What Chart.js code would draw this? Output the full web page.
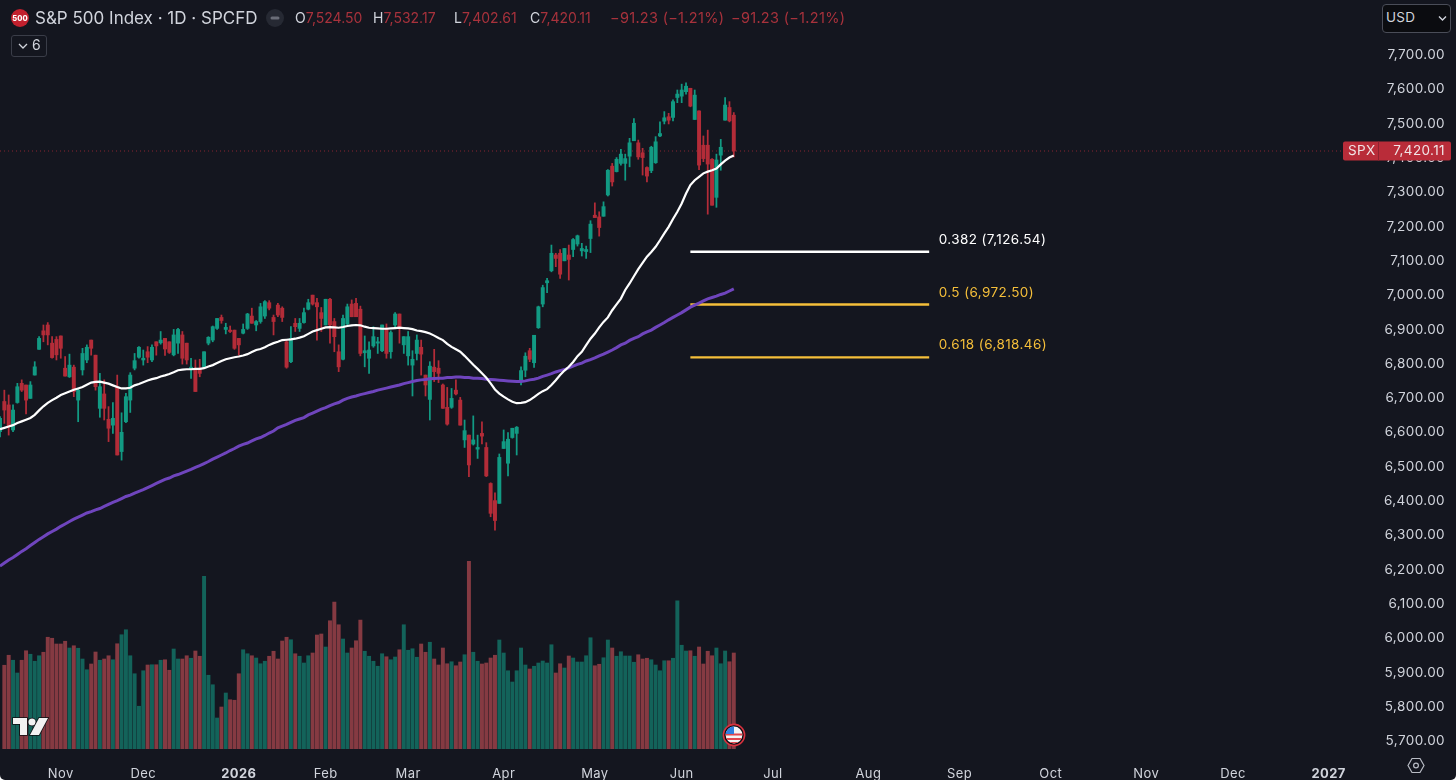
<!DOCTYPE html>
<html>
<head>
<meta charset="utf-8">
<title>S&amp;P 500 Index</title>
<script src="https://cdn.jsdelivr.net/npm/chart.js@4"></script>
<style>
  html, body { margin: 0; padding: 0; background: #fff; overflow: hidden; }
  #wrap { position: relative; width: 1456px; height: 780px; overflow: hidden; border-radius: 0 0 5px 5px; background: #14161f; font-family: Inter, sans-serif; color: #d1d4dc; }
  canvas { position: absolute; left: 0; top: 0; }
  .t { position: absolute; white-space: nowrap; line-height: 1; }
  .r { color: #a8323c; }
  svg { position: absolute; }
</style>
</head>
<body>
<div id="wrap">
  <canvas id="grafico" width="1456" height="781"></canvas>

  <svg style="left:11px;top:9px" width="18" height="18" viewBox="0 0 18 18"><circle cx="9" cy="9" r="9" fill="#c2202e"/><text x="9" y="11.6" text-anchor="middle" font-size="7.5" font-weight="800" font-family="Inter" fill="#fff">500</text></svg>
  <div class="t" style="left:35px;top:10px;font-size:17px;">S&amp;P 500 Index · 1D · SPCFD</div>
  <svg style="left:266px;top:9px" width="18" height="18" viewBox="0 0 18 18"><circle cx="9" cy="9" r="9" fill="#262933"/><rect x="4.5" y="7.5" width="9" height="3" rx="1.5" fill="#6a6d78"/></svg>
  <div class="t" style="left:295px;top:11px;font-size:14px;">O<span class="r">7,524.50</span></div>
  <div class="t" style="left:373px;top:11px;font-size:14px;">H<span class="r">7,532.17</span></div>
  <div class="t" style="left:454px;top:11px;font-size:14px;">L<span class="r">7,402.61</span></div>
  <div class="t" style="left:530px;top:11px;font-size:14px;">C<span class="r">7,420.11</span></div>
  <div class="t r" style="left:610px;top:11px;font-size:14.5px;letter-spacing:.3px;">−91.23 (−1.21%)</div>
  <div class="t r" style="left:731px;top:11px;font-size:14.5px;letter-spacing:.3px;">−91.23 (−1.21%)</div>

  <div class="t" style="left:11px;top:35px;width:34px;height:20px;border:1px solid #3a3d48;border-radius:3px;"></div>
  <svg style="left:18px;top:42px" width="10" height="8" viewBox="0 0 10 8"><path d="M1 2 L5 6 L9 2" fill="none" stroke="#d1d4dc" stroke-width="1.3"/></svg>
  <div class="t" style="left:32px;top:38px;font-size:14px;">6</div>

  <div class="t" style="left:1382px;top:4px;width:67px;height:27px;background:#0b0c10;border:1px solid #4a4d58;border-radius:4px;"></div>
  <div class="t" style="left:1386px;top:11px;font-size:13.5px;letter-spacing:.3px;">USD</div>
  <svg style="left:1438px;top:15px" width="9" height="7" viewBox="0 0 9 7"><path d="M1 1.5 L4.5 5 L8 1.5" fill="none" stroke="#d1d4dc" stroke-width="1.4"/></svg>

  <svg style="left:12px;top:716px" width="37" height="21" viewBox="0 0 37 21">
    <g stroke="#0b0c10" stroke-width="1.5" paint-order="stroke" fill="#f2f2f2">
      <path d="M1 2 H15 V19 H8 V8 H1 Z"/><circle cx="20" cy="6" r="3.6"/><path d="M27 2 H36 L27 19 H18 Z"/>
    </g>
  </svg>
  <svg style="left:722px;top:723px" width="24" height="24" viewBox="0 0 24 24">
    <defs><clipPath id="fc"><circle cx="12" cy="12" r="8.4"/></clipPath></defs>
    <circle cx="12" cy="12" r="10.6" fill="#0d0e14" stroke="#d8323f" stroke-width="1.6"/>
    <g clip-path="url(#fc)">
      <rect x="3" y="3" width="18" height="18" fill="#f4f4f4"/>
      <rect x="3" y="10.5" width="18" height="2" fill="#e2474f"/><rect x="3" y="15" width="18" height="2" fill="#e2474f"/>
      <rect x="3" y="19" width="18" height="2" fill="#e2474f"/>
      <rect x="3" y="3" width="9" height="8" fill="#2f7fe0"/>
    </g>
  </svg>
  <svg style="left:1407px;top:757px" width="18" height="17" viewBox="0 0 18 17"><path d="M5 1.5 H13 L17 8.5 L13 15.5 H5 L1 8.5 Z" fill="none" stroke="#b8bbc4" stroke-width="1.2"/><circle cx="9" cy="8.5" r="2.4" fill="none" stroke="#b8bbc4" stroke-width="1.2"/></svg>
</div>

<script>
// velas diarias, de izquierda a derecha
const opens = [6602,6690,6680,6607,6687,6743,6738,6699,6767,6842,6896,6913,6860,6871,6881,6787,6762,6790,6694,6782,6811,6869,6825,6670,6712,6638,6621,6733,6544,6631,6694,6787,6819,6811,6835,6811,6864,6861,6874,6864,6826,6860,6884,6860,6784,6784,6787,6790,6860,6869,6903,6935,6900,6898,6898,6874,6889,6903,6939,6913,
6923,6939,6978,6935,6971,6962,6864,6806,6918,6903,6920,6959,7000,6978,6949,6913,6988,6923,6835,6813,6916,6974,6976,6959,6832,6816,6852,6860,6838,6903,6835,6913,6945,6855,6823,6796,6830,6848,6767,6696,6790,6787,6738,6673,6673,6723,6694,6578,6592,6566,6551,6597,6556,6451,6401,6393,6553,6510,6585,6597,
6750,6781,6838,6803,6905,6974,7036,7071,7117,7122,7100,7117,7133,7149,7129,7127,7165,7233,7228,7230,7292,7376,7360,7384,7384,7405,7450,7444,7415,7372,7363,7386,7464,7507,7520,7518,7576,7580,7593,7603,7512,7537,7437,7437,7396,7285,7408,7510,7547,7524.50];
const highs = [6646,6723,6709,6680,6743,6753,6738,6748,6806,6879,6913,6920,6879,6879,6881,6821,6828,6796,6728,6845,6855,6869,6825,6772,6753,6675,6687,6767,6657,6714,6774,6830,6850,6840,6850,6855,6864,6894,6874,6864,6900,6903,6894,6860,6816,6811,6813,6835,6879,6910,6932,6942,6918,6910,6898,6874,6916,6947,6962,6926,
6976,6984,6984,6942,6976,6966,6869,6908,6932,6932,6962,6988,7000,6991,6964,6988,6991,6932,6855,6942,6974,6986,6991,6968,6881,6864,6908,6877,6913,6916,6896,6949,6945,6879,6894,6838,6884,6869,6767,6806,6842,6809,6741,6731,6728,6753,6702,6636,6592,6648,6592,6631,6570,6453,6424,6537,6607,6599,6612,6617,
6791,6832,6845,6883,6968,7029,7049,7146,7122,7133,7136,7146,7165,7175,7151,7143,7217,7269,7243,7272,7366,7384,7401,7425,7411,7457,7515,7452,7428,7374,7434,7462,7505,7535,7530,7569,7598,7615,7619,7603,7598,7537,7464,7481,7398,7411,7454,7576,7564,7532.17];
const lows = [6587,6626,6592,6602,6685,6719,6654,6699,6767,6842,6864,6855,6816,6811,6816,6764,6760,6704,6631,6767,6803,6825,6723,6644,6636,6573,6597,6534,6519,6628,6658,6782,6816,6796,6803,6806,6825,6857,6824,6830,6823,6830,6799,6799,6757,6719,6762,6787,6855,6864,6900,6918,6887,6891,6842,6825,6887,6900,6918,6896,
6918,6932,6957,6884,6937,6923,6787,6803,6894,6894,6918,6957,6971,6869,6894,6913,6860,6835,6777,6811,6913,6937,6937,6823,6791,6772,6848,6830,6835,6816,6816,6908,6860,6830,6796,6706,6811,6767,6706,6636,6748,6745,6670,6621,6670,6709,6621,6556,6471,6563,6524,6566,6471,6354,6315,6393,6553,6473,6583,6534,
6738,6762,6806,6789,6903,6966,7007,7068,7083,7049,7100,7044,7112,7143,7114,7107,7124,7226,7172,7230,7289,7318,7359,7379,7335,7374,7450,7396,7350,7330,7357,7384,7462,7499,7499,7508,7561,7561,7586,7549,7512,7366,7389,7236,7262,7256,7364,7510,7505,7402.61];
const closes = [6641,6665,6617,6665,6733,6723,6694,6738,6791,6874,6884,6884,6818,6826,6845,6764,6796,6719,6723,6830,6848,6845,6733,6733,6670,6612,6641,6534,6600,6704,6767,6809,6848,6816,6819,6848,6852,6869,6843,6833,6884,6900,6816,6811,6790,6719,6772,6835,6877,6908,6932,6926,6906,6894,6845,6855,6900,6945,6918,6923,
6966,6981,6962,6923,6942,6935,6790,6874,6908,6918,6949,6978,6974,6966,6932,6988,6913,6879,6791,6932,6966,6937,6937,6830,6838,6840,6879,6864,6913,6830,6891,6945,6906,6879,6879,6813,6869,6828,6738,6793,6777,6772,6670,6624,6699,6712,6621,6605,6505,6578,6556,6589,6473,6364,6343,6527,6573,6580,6612,6615,
6780,6822,6813,6883,6966,7022,7042,7122,7107,7061,7136,7104,7162,7173,7136,7133,7207,7226,7197,7258,7364,7330,7396,7411,7398,7444,7501,7403,7401,7347,7431,7447,7471,7517,7510,7564,7586,7598,7609,7551,7583,7379,7398,7382,7262,7394,7431,7554,7508,7420.11];
// volumen en miles de millones (sin dato en la primera vela, cortada por el borde)
const volumes = [null,3.35,3.75,3.55,3.04,3.55,3.93,3.79,3.51,3.73,3.87,4.47,4.43,4.20,4.20,4.31,4.04,4.13,4.03,3.60,3.17,3.40,3.88,3.55,3.60,3.73,3.57,4.21,4.57,4.77,3.73,3.01,1.71,3.13,3.36,3.37,3.37,3.55,3.57,3.15,4.00,3.60,3.60,3.73,3.63,3.92,3.71,6.91,2.95,2.57,1.24,1.68,2.24,1.97,1.95,3.01,3.97,3.81,3.73,3.64,
3.41,3.51,3.71,3.91,3.60,4.32,4.47,4.37,3.81,3.71,3.44,3.73,3.84,4.56,4.60,4.08,5.13,5.88,4.97,4.40,3.84,4.04,4.33,5.16,3.91,3.71,3.51,3.31,3.81,3.69,3.57,3.68,3.97,4.97,3.95,4.01,3.67,4.20,3.87,4.27,3.60,3.36,4.04,3.41,3.49,3.33,3.48,3.77,7.51,3.87,3.51,3.40,3.44,3.64,3.75,4.36,3.84,3.13,2.68,3.13,
4.04,3.36,3.20,3.31,3.44,3.52,3.44,4.17,3.04,3.41,3.24,3.72,3.64,3.48,3.48,3.73,4.45,3.33,3.39,3.65,4.36,4.04,3.71,3.89,3.72,3.72,3.47,3.77,3.60,3.63,3.57,3.36,3.13,3.53,3.53,3.63,5.93,4.15,3.92,3.93,3.71,4.08,3.40,3.91,3.73,4.04,3.41,3.92,3.49,3.84];
const sma50 = [6609,6613,6617,6621,6627,6632,6637,6642,6651,6664,6676,6686,6694,6701,6709,6714,6719,6724,6728,6732,6739,6745,6747,6748,6745,6742,6737,6732,6728,6728,6730,6737,6741,6746,6751,6755,6758,6763,6766,6770,6775,6781,6783,6784,6784,6785,6785,6787,6792,6796,6802,6808,6813,6816,6819,6821,6824,6828,6834,6840,
6843,6848,6855,6860,6864,6869,6870,6871,6873,6876,6880,6887,6894,6898,6902,6906,6907,6906,6905,6907,6910,6912,6913,6912,6908,6905,6904,6903,6902,6902,6903,6904,6905,6904,6903,6901,6897,6895,6892,6888,6882,6875,6869,6858,6849,6842,6835,6823,6810,6797,6785,6772,6759,6743,6725,6713,6704,6696,6689,6685,
6686,6688,6694,6703,6712,6720,6726,6738,6752,6767,6780,6791,6805,6822,6835,6854,6873,6888,6906,6922,6935,6956,6973,6990,7015,7034,7055,7076,7094,7112,7126,7141,7160,7180,7199,7222,7243,7267,7296,7321,7335,7345,7355,7360,7364,7369,7381,7392,7401,7407];
const sma200 = [6210,6219,6228,6235,6244,6253,6261,6270,6279,6288,6296,6304,6311,6318,6326,6333,6340,6347,6353,6359,6365,6369,6374,6378,6384,6390,6396,6401,6407,6413,6417,6423,6428,6433,6439,6445,6451,6457,6463,6467,6473,6477,6482,6487,6492,6498,6503,6509,6515,6522,6528,6534,6540,6547,6553,6560,6565,6569,6575,6581,
6585,6591,6598,6604,6613,6618,6623,6629,6635,6639,6643,6651,6656,6662,6668,6672,6678,6683,6687,6694,6699,6703,6706,6710,6713,6716,6719,6723,6726,6729,6732,6735,6738,6742,6745,6748,6751,6753,6754,6756,6757,6758,6758,6760,6760,6761,6761,6760,6760,6758,6758,6757,6755,6754,6753,6752,6751,6750,6749,6748,
6748,6750,6753,6755,6758,6763,6767,6771,6776,6780,6783,6788,6793,6798,6802,6808,6812,6817,6823,6828,6834,6840,6847,6855,6860,6868,6874,6879,6887,6893,6898,6906,6913,6920,6928,6935,6942,6949,6957,6965,6971,6977,6983,6989,6993,6997,7002,7006,7012,7018];

const lastPrice = 7420.11;
const fibRatios = ['0.382', '0.5', '0.618'];
const fibLevels = [7126.54, 6972.50, 6818.46];
const fibColors = ['#ffffff', '#f5bf3a', '#f5bf3a'];
const fibFrom = 159, fibTo = 214;

const priceTicks = [5700,5800,5900,6000,6100,6200,6300,6400,6500,6600,6700,6800,6900,7000,7100,7200,7300,7400,7500,7600,7700];
const timeTickPos = [14,33,55,75,94,116,137,157,178,200,221,242,264,284,306];
const timeTickLabels = ['Nov','Dec','2026','Feb','Mar','Apr','May','Jun','Jul','Aug','Sep','Oct','Nov','Dec','2027'];
const boldTicks = ['2026','2027'];

const numCats = 311;
const categories = [];
for (let i = 0; i < numCats; i++) categories.push('');
timeTickPos.forEach((p, n) => { categories[p] = timeTickLabels[n]; });

const VERDE = '#129a83', ROJO = '#b32c38', VERDE_VOL = '#13635a', ROJO_VOL = '#853a42';
const colorVela = closes.map((c, i) => c >= opens[i] ? VERDE : ROJO);
const colorVol = closes.map((c, i) => c >= opens[i] ? VERDE_VOL : ROJO_VOL);

function precio(v) {
  return v.toLocaleString('en-US', { minimumFractionDigits: 2, maximumFractionDigits: 2 });
}

function fibData(level) {
  return categories.map((c, i) => (i >= fibFrom && i <= fibTo) ? level : null);
}

// sin relleno automatico: el area de dibujo llega al borde
function sinPadding(s) {
  s.paddingLeft = s.paddingRight = s.paddingTop = s.paddingBottom = 0;
}

// textos y etiqueta de precio, colocados con la escala del eje
const extras = {
  id: 'extras',
  beforeUpdate(chart) { chart.ctx.letterSpacing = '0.4px'; },
  beforeDraw(chart) { chart.ctx.letterSpacing = '0.4px'; },
  afterDraw(chart) {
    const ctx = chart.ctx, y = chart.scales.y, x = chart.scales.x;
    ctx.save();
    ctx.textBaseline = 'middle';
    ctx.font = '13.5px Inter';
    ctx.textAlign = 'left';
    fibLevels.forEach((lv, n) => {
      ctx.fillStyle = fibColors[n];
      ctx.fillText(`${fibRatios[n]} (${precio(lv)})`, x.getPixelForValue(fibTo) + 9.5, y.getPixelForValue(lv) - 12);
    });

    const py = y.getPixelForValue(lastPrice);
    ctx.fillStyle = '#b92c39';
    ctx.beginPath();
    ctx.roundRect(1343, py - 9.5, 108, 19, 2);
    ctx.fill();
    ctx.fillStyle = '#8f2230';
    ctx.fillRect(1378, py - 9.5, 1, 19);
    ctx.fillStyle = '#f0e4e6';
    ctx.fillText('SPX', 1348, py);
    ctx.textAlign = 'right';
    ctx.fillText(precio(lastPrice), 1445, py);
    ctx.restore();
  }
};

new Chart(document.getElementById('grafico'), {
  data: {
    labels: categories,
    datasets: [
      { type: 'line', label: 'SMA 50', data: sma50, borderColor: '#ffffff', borderWidth: 2.2, pointRadius: 0, order: 1 },
      { type: 'line', label: 'SMA 200', data: sma200, borderColor: '#6f45bd', borderWidth: 3, pointRadius: 0, order: 2 },
      { type: 'line', label: fibRatios[0], data: fibData(fibLevels[0]), borderColor: fibColors[0], borderWidth: 2.4, pointRadius: 0, order: 3 },
      { type: 'line', label: fibRatios[1], data: fibData(fibLevels[1]), borderColor: fibColors[1], borderWidth: 2.4, pointRadius: 0, order: 3 },
      { type: 'line', label: fibRatios[2], data: fibData(fibLevels[2]), borderColor: fibColors[2], borderWidth: 2.4, pointRadius: 0, order: 3 },
      { type: 'bar', label: 'Cuerpo', data: opens.map((o, i) => [o, closes[i]]), backgroundColor: colorVela, barThickness: 3.3, grouped: false, order: 4 },
      { type: 'bar', label: 'Mecha', data: lows.map((l, i) => [l, highs[i]]), backgroundColor: colorVela, barThickness: 1.1, grouped: false, order: 5 },
      { type: 'line', label: 'Último', data: categories.map(() => lastPrice), borderColor: 'rgba(178,44,56,0.75)', borderWidth: 1, borderDash: [1, 3], pointRadius: 0, order: 6 },
      { type: 'bar', label: 'Volumen', data: volumes, yAxisID: 'yVol', backgroundColor: colorVol, barThickness: 3.3, grouped: false, order: 7 }
    ]
  },
  options: {
    responsive: false,
    animation: false,
    events: [],
    layout: { autoPadding: false, padding: { left: 0, top: 0, bottom: 0, right: 11 } },
    plugins: { legend: { display: false }, title: { display: false }, tooltip: { enabled: false } },
    scales: {
      x: {
        offset: false,
        grid: { display: false },
        border: { display: false },
        afterFit: s => { s.height = 32; sinPadding(s); },
        ticks: {
          autoSkip: false,
          maxRotation: 0,
          padding: 9,
          color: '#d1d4dc',
          font: c => ({ family: 'Inter', size: 13, weight: boldTicks.includes(c.tick && c.tick.label) ? '700' : '400' }),
          callback: (v, i) => categories[i]
        }
      },
      y: {
        position: 'right',
        min: 5677,
        max: 7860.3,
        grid: { display: false },
        border: { display: false },
        afterBuildTicks: s => { s.ticks = priceTicks.map(v => ({ value: v })); },
        afterFit: s => { s.width = 99; sinPadding(s); },
        ticks: {
          color: '#d1d4dc',
          font: { family: 'Inter', size: 13.5 },
          crossAlign: 'far',
          padding: 8,
          callback: v => precio(v)
        }
      },
      yVol: { display: false, min: 0, max: 29.96 }
    }
  },
  plugins: [extras]
});
</script>
</body>
</html>
